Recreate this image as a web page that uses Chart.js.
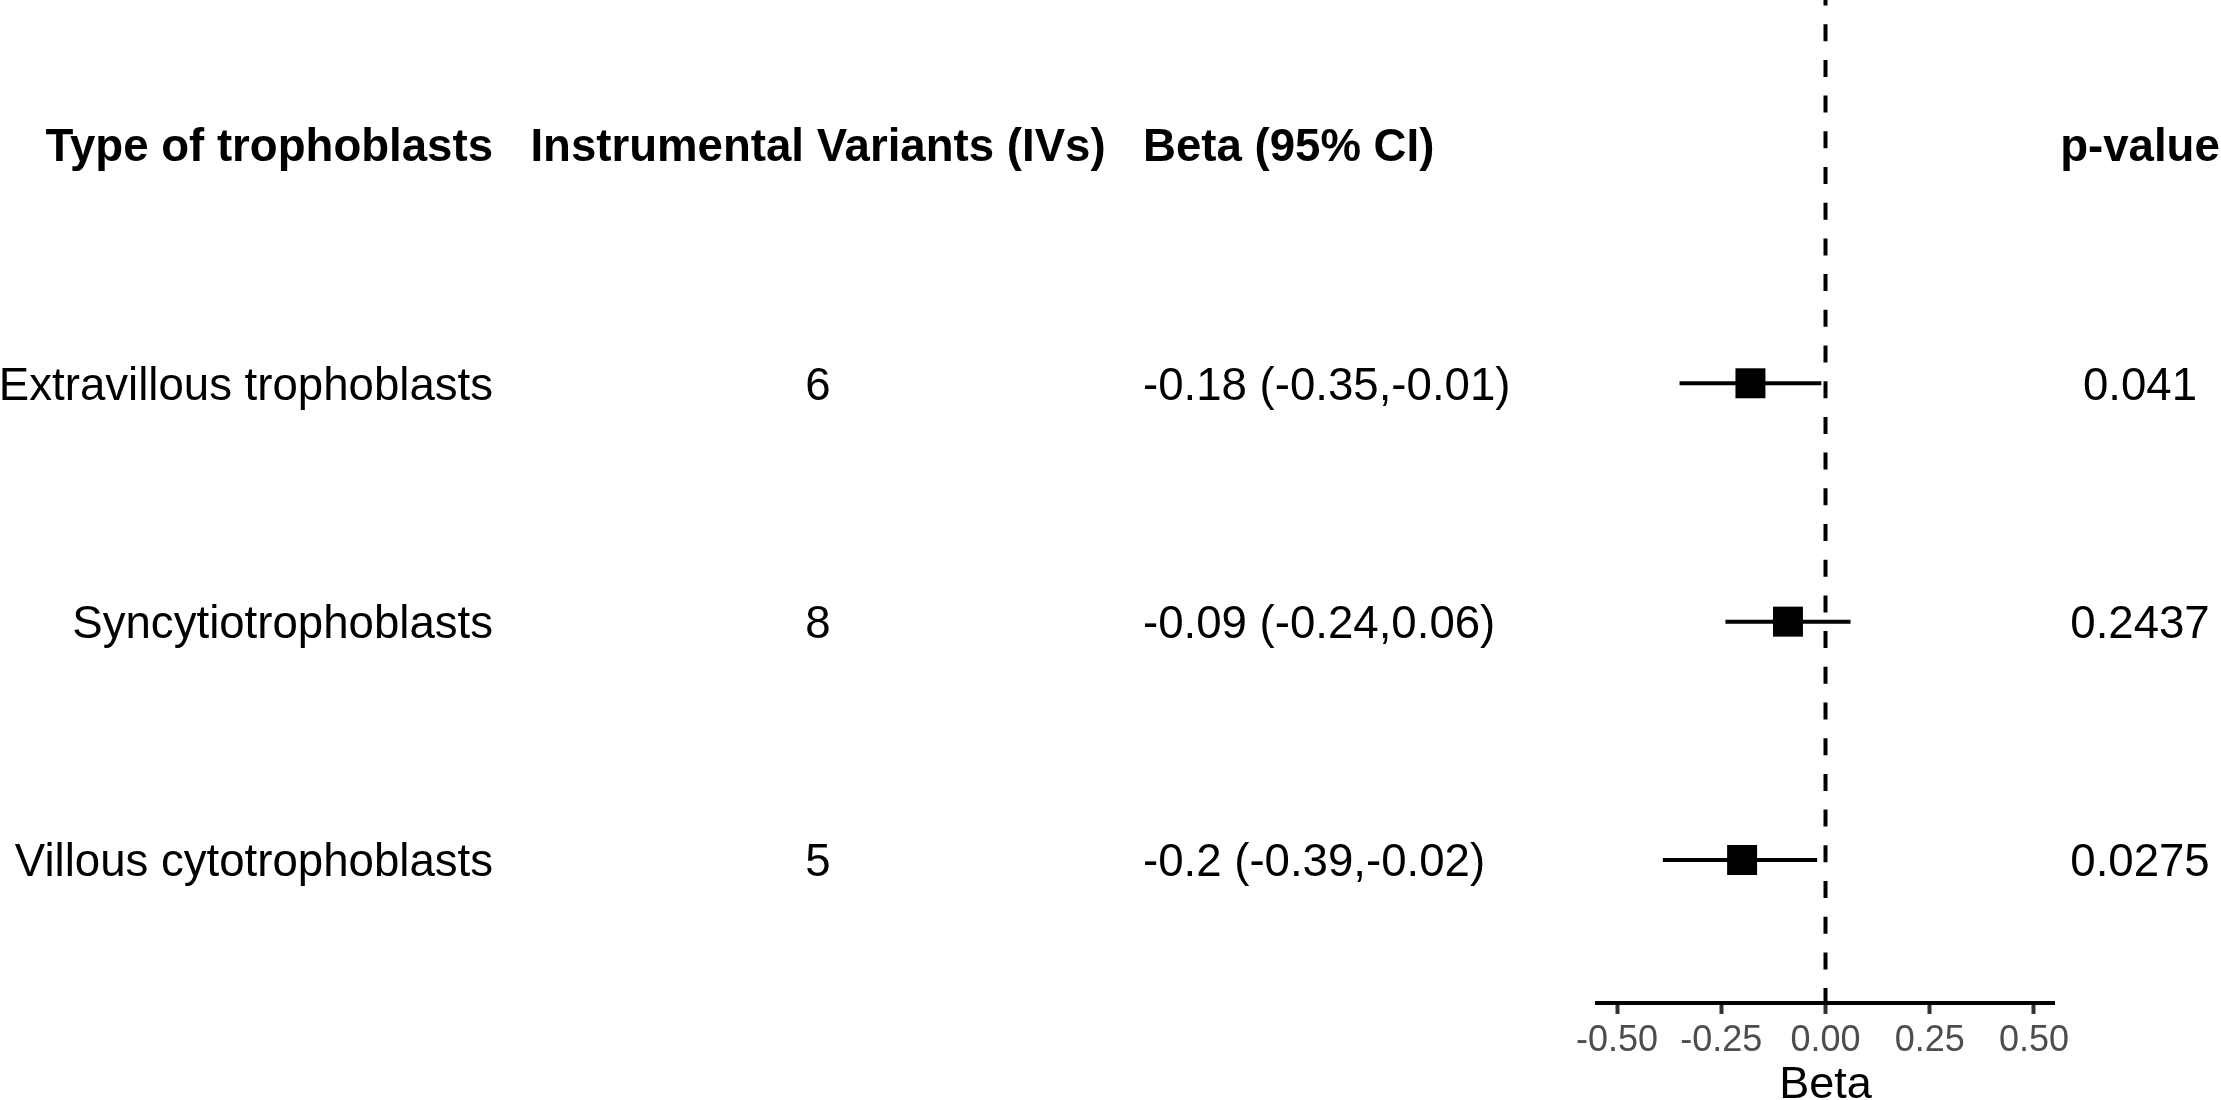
<!DOCTYPE html>
<html>
<head>
<meta charset="utf-8">
<script src="https://cdn.jsdelivr.net/npm/chart.js@4.4.1/dist/chart.umd.min.js"></script>
<style>
  html, body { margin: 0; padding: 0; background: #fff; }
  #chart { display: block; }
</style>
</head>
<body>
<canvas id="chart" width="2221" height="1100" style="width:2221px;height:1100px"></canvas>
<script>
// data
const headers = ["Type of trophoblasts", "Instrumental Variants (IVs)", "Beta (95% CI)", "p-value"];
const cellTypes = ["Extravillous trophoblasts", "Syncytiotrophoblasts", "Villous cytotrophoblasts"];
const ivCounts = [6, 8, 5];
const betas = [-0.18, -0.09, -0.2];
const ciLower = [-0.35, -0.24, -0.39];
const ciUpper = [-0.01, 0.06, -0.02];
const pValues = ["0.041", "0.2437", "0.0275"];
const xTicks = [-0.5, -0.25, 0, 0.25, 0.5];

// row positions on the y scale (header sits one row above the first)
const rowPos = [3, 2, 1];
const headerPos = 4;

const FONT = "'Liberation Sans', Arial, Helvetica, sans-serif";
const TEXT_SIZE = 45.6;

// columns of the table on the left
const columns = [
  { x: 493, align: "right" },
  { x: 818, align: "center" },
  { x: 1143, align: "left" },
  { x: 2140, align: "center" }
];

const tablePlugin = {
  id: "forestTable",
  afterDraw(chart) {
    const ctx = chart.ctx;
    const y = chart.scales.y;
    const capHalf = TEXT_SIZE * 0.716 / 2;
    ctx.save();
    ctx.fillStyle = "#000";
    ctx.textBaseline = "alphabetic";

    ctx.font = "bold " + TEXT_SIZE + "px " + FONT;
    headers.forEach((h, i) => {
      ctx.textAlign = columns[i].align;
      ctx.fillText(h, columns[i].x, y.getPixelForValue(headerPos) + capHalf);
    });

    ctx.font = TEXT_SIZE + "px " + FONT;
    cellTypes.forEach((name, r) => {
      const py = y.getPixelForValue(rowPos[r]) + capHalf;
      const cells = [
        name,
        String(ivCounts[r]),
        `${betas[r]} (${ciLower[r]},${ciUpper[r]})`,
        pValues[r]
      ];
      cells.forEach((txt, i) => {
        ctx.textAlign = columns[i].align;
        ctx.fillText(txt, columns[i].x, py);
      });
    });
    ctx.restore();
  }
};

const yMin = 0.4, yMax = 4.608;

const ciSets = cellTypes.map((name, r) => ({
  label: name + " CI",
  data: [{ x: ciLower[r], y: rowPos[r] }, { x: ciUpper[r], y: rowPos[r] }],
  showLine: true,
  borderColor: "#000",
  borderWidth: 4,
  pointRadius: 0
}));

new Chart(document.getElementById("chart"), {
  type: "scatter",
  data: {
    datasets: [
      {
        label: "Beta",
        data: betas.map((b, r) => ({ x: b, y: rowPos[r] })),
        pointStyle: "rect",
        pointRadius: 21.2,
        backgroundColor: "#000",
        borderWidth: 0
      },
      ...ciSets,
      {
        label: "zero",
        data: [{ x: 0, y: yMax }, { x: 0, y: yMin }],
        showLine: true,
        borderColor: "#000",
        borderWidth: 4,
        borderDash: [17, 18.7],
        borderDashOffset: 11.5,
        pointRadius: 0
      }
    ]
  },
  options: {
    responsive: false,
    devicePixelRatio: 1,
    animation: false,
    events: [],
    layout: { autoPadding: false, padding: { left: 1597, right: 167, top: 0, bottom: 0 } },
    plugins: { legend: { display: false }, tooltip: { enabled: false } },
    scales: {
      x: {
        type: "linear",
        min: -0.548,
        max: 0.548,
        afterFit: (scale) => { scale.height = 97; },
        afterBuildTicks: (scale) => { scale.ticks = xTicks.map(v => ({ value: v })); },
        border: { display: true, color: "#000", width: 4 },
        grid: {
          display: true,
          drawOnChartArea: false,
          drawTicks: true,
          tickLength: 11,
          tickWidth: 4,
          tickColor: "#333333"
        },
        ticks: {
          color: "#4D4D4D",
          padding: 5,
          font: { family: FONT, size: 36 },
          callback: (v) => Number(v).toFixed(2)
        },
        title: {
          display: true,
          text: "Beta",
          color: "#000",
          padding: 0,
          font: { family: FONT, size: 45, lineHeight: 0.62 }
        }
      },
      y: {
        type: "linear",
        display: false,
        min: yMin,
        max: yMax
      }
    }
  },
  plugins: [tablePlugin]
});
</script>
</body>
</html>
